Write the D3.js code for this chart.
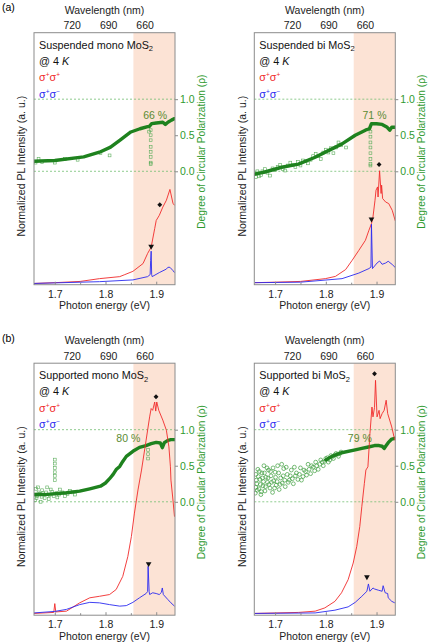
<!DOCTYPE html>
<html>
<head>
<meta charset="utf-8">
<script src="https://cdn.jsdelivr.net/npm/d3@7"></script>
<style>
  body { margin: 0; background: #fff; }
  svg { font-family: "Liberation Sans", Arial, sans-serif; }
</style>
</head>
<body>
<svg id="chart" width="429" height="644"></svg>
<script>
// ---- data: [photon energy (eV), value] ----
// PL intensity is normalized to the panel height (0 = bottom, 1 = top)
let redSusMono = [[1.659,0.005],[1.70,0.008],[1.75,0.013],[1.788,0.024],[1.828,0.032],[1.838,0.04],[1.854,0.053],[1.874,0.084],[1.883,0.124],[1.890,0.149],[1.897,0.223],[1.900,0.255],[1.906,0.275],[1.913,0.308],[1.920,0.335],[1.927,0.378],[1.933,0.323],[1.936,0.315]];
let blueSusMono = [[1.659,0.005],[1.788,0.012],[1.854,0.019],[1.883,0.032],[1.888,0.04],[1.889,0.096],[1.890,0.133],[1.891,0.04],[1.892,0.032],[1.906,0.048],[1.920,0.062],[1.923,0.069],[1.927,0.069],[1.933,0.056],[1.936,0.048]];
let dcpSusMono = [[1.659,0.14],[1.70,0.15],[1.757,0.20],[1.788,0.265],[1.81,0.335],[1.828,0.43],[1.85,0.545],[1.868,0.59],[1.883,0.62],[1.886,0.62],[1.891,0.66],[1.900,0.67],[1.913,0.68],[1.918,0.65],[1.923,0.68],[1.930,0.71],[1.936,0.73]];
let scatSusMono = [[1.889,0.57],[1.889,0.50],[1.889,0.43],[1.889,0.34],[1.889,0.27],[1.889,0.20],[1.889,0.12],[1.889,0.10],[1.886,0.55],[1.662,0.12],[1.668,0.17],[1.675,0.13],[1.70,0.12],[1.72,0.17],[1.745,0.16],[1.79,0.25],[1.808,0.22]];

let redSusBi = [[1.660,0.008],[1.70,0.01],[1.75,0.013],[1.799,0.024],[1.819,0.033],[1.839,0.06],[1.852,0.097],[1.865,0.136],[1.878,0.176],[1.885,0.216],[1.890,0.242],[1.893,0.269],[1.897,0.335],[1.899,0.375],[1.902,0.388],[1.903,0.348],[1.906,0.452],[1.909,0.362],[1.910,0.395],[1.912,0.342],[1.918,0.328],[1.924,0.322],[1.931,0.295],[1.937,0.253]];
let blueSusBi = [[1.660,0.008],[1.75,0.01],[1.832,0.024],[1.865,0.046],[1.885,0.064],[1.889,0.07],[1.890,0.24],[1.892,0.064],[1.901,0.086],[1.906,0.094],[1.911,0.081],[1.918,0.086],[1.923,0.093],[1.931,0.08],[1.937,0.068]];
let dcpSusBi = [[1.660,-0.04],[1.680,-0.01],[1.713,0.056],[1.746,0.10],[1.779,0.195],[1.806,0.29],[1.832,0.38],[1.858,0.50],[1.878,0.57],[1.886,0.59],[1.890,0.66],[1.900,0.66],[1.911,0.65],[1.921,0.61],[1.926,0.57],[1.930,0.61],[1.936,0.61]];
let scatSusBi = [[1.888,0.55],[1.888,0.48],[1.888,0.40],[1.888,0.33],[1.888,0.25],[1.888,0.17],[1.888,0.10],[1.888,0.08],[1.662,-0.08],[1.664,-0.03],[1.665,0.0],[1.668,-0.07],[1.672,-0.05],[1.675,0.0],[1.68,0.03],[1.685,-0.02],[1.69,-0.06],[1.695,0.04],[1.70,0.02],[1.705,0.06],[1.71,0.09],[1.715,0.03],[1.72,0.01],[1.725,0.08],[1.73,0.12],[1.735,0.09],[1.74,0.06],[1.745,0.13],[1.75,0.08],[1.755,0.15],[1.76,0.14],[1.765,0.11],[1.77,0.16],[1.775,0.21],[1.78,0.24],[1.785,0.21],[1.79,0.17],[1.795,0.26],[1.80,0.30],[1.805,0.26],[1.81,0.32],[1.815,0.25],[1.82,0.33],[1.825,0.40],[1.83,0.36],[1.84,0.33]];

let redSupMono = [[1.659,0.007],[1.698,0.011],[1.700,0.046],[1.702,0.013],[1.723,0.016],[1.749,0.049],[1.769,0.069],[1.788,0.075],[1.808,0.082],[1.821,0.102],[1.834,0.154],[1.844,0.233],[1.851,0.312],[1.857,0.405],[1.864,0.497],[1.871,0.576],[1.880,0.694],[1.887,0.787],[1.890,0.82],[1.893,0.813],[1.897,0.846],[1.899,0.81],[1.901,0.846],[1.905,0.813],[1.913,0.774],[1.920,0.734],[1.925,0.668],[1.928,0.589],[1.929,0.536],[1.933,0.457],[1.936,0.391]];
let blueSupMono = [[1.659,0.009],[1.700,0.015],[1.723,0.023],[1.749,0.042],[1.769,0.051],[1.788,0.049],[1.808,0.042],[1.828,0.036],[1.841,0.038],[1.854,0.051],[1.867,0.069],[1.880,0.086],[1.883,0.094],[1.884,0.194],[1.886,0.094],[1.887,0.082],[1.893,0.089],[1.900,0.086],[1.906,0.082],[1.910,0.09],[1.912,0.108],[1.914,0.082],[1.923,0.062],[1.929,0.049],[1.936,0.036]];
let dcpSupMono = [[1.659,0.10],[1.68,0.10],[1.723,0.125],[1.749,0.147],[1.769,0.18],[1.79,0.216],[1.80,0.26],[1.808,0.32],[1.815,0.38],[1.821,0.447],[1.828,0.49],[1.834,0.56],[1.841,0.63],[1.854,0.70],[1.867,0.755],[1.880,0.78],[1.890,0.806],[1.900,0.824],[1.908,0.816],[1.912,0.75],[1.916,0.82],[1.923,0.852],[1.929,0.862],[1.936,0.862]];
let scatSupMono = [[1.700,0.585],[1.700,0.53],[1.700,0.47],[1.700,0.41],[1.700,0.36],[1.700,0.30],[1.884,0.72],[1.884,0.66],[1.884,0.60],[1.661,0.02],[1.662,0.10],[1.663,0.18],[1.664,0.05],[1.665,0.08],[1.667,0.20],[1.668,0.13],[1.670,0.11],[1.672,0.0],[1.674,0.07],[1.675,0.16],[1.677,0.12],[1.68,0.05],[1.683,0.13],[1.685,0.20],[1.688,0.04],[1.69,0.09],[1.692,0.17],[1.695,0.14],[1.698,0.08],[1.703,0.12],[1.705,0.06],[1.708,0.10],[1.71,0.17],[1.715,0.13],[1.72,0.08],[1.725,0.11],[1.73,0.15],[1.735,0.13],[1.74,0.10]];

let redSupBi = [[1.660,0.007],[1.746,0.011],[1.779,0.016],[1.798,0.029],[1.818,0.055],[1.831,0.089],[1.844,0.141],[1.854,0.207],[1.861,0.273],[1.867,0.352],[1.871,0.431],[1.876,0.523],[1.879,0.576],[1.883,0.589],[1.887,0.721],[1.891,0.826],[1.893,0.787],[1.896,0.824],[1.898,0.932],[1.901,0.787],[1.905,0.813],[1.907,0.78],[1.911,0.8],[1.915,0.813],[1.919,0.853],[1.922,0.8],[1.930,0.747],[1.936,0.694]];
let blueSupBi = [[1.660,0.007],[1.779,0.009],[1.818,0.02],[1.844,0.033],[1.858,0.051],[1.871,0.075],[1.881,0.095],[1.884,0.124],[1.887,0.095],[1.893,0.108],[1.896,0.104],[1.904,0.099],[1.911,0.095],[1.913,0.117],[1.917,0.089],[1.922,0.086],[1.923,0.069],[1.930,0.055],[1.936,0.049]];
let dcpSupBi = [[1.80,0.58],[1.812,0.63],[1.831,0.68],[1.858,0.72],[1.871,0.74],[1.884,0.76],[1.896,0.78],[1.905,0.78],[1.911,0.77],[1.915,0.74],[1.918,0.77],[1.923,0.82],[1.930,0.87],[1.936,0.88]];
let scatSupBi = [[1.661,0.12],[1.662,0.38],[1.662,0.20],[1.663,0.30],[1.664,0.25],[1.665,0.16],[1.666,0.45],[1.667,0.35],[1.668,0.18],[1.669,0.42],[1.670,0.31],[1.671,0.24],[1.672,0.10],[1.673,0.14],[1.674,0.40],[1.675,0.33],[1.676,0.22],[1.677,0.28],[1.678,0.50],[1.679,0.40],[1.680,0.15],[1.681,0.21],[1.682,0.34],[1.684,0.47],[1.685,0.27],[1.686,0.33],[1.687,0.44],[1.688,0.24],[1.690,0.19],[1.691,0.42],[1.692,0.36],[1.693,0.27],[1.695,0.13],[1.696,0.47],[1.697,0.29],[1.699,0.19],[1.700,0.41],[1.701,0.34],[1.702,0.23],[1.704,0.28],[1.705,0.50],[1.707,0.40],[1.708,0.17],[1.710,0.24],[1.711,0.33],[1.713,0.52],[1.714,0.26],[1.716,0.36],[1.717,0.46],[1.719,0.30],[1.720,0.21],[1.722,0.48],[1.724,0.38],[1.726,0.27],[1.728,0.30],[1.730,0.36],[1.732,0.44],[1.734,0.32],[1.736,0.25],[1.738,0.48],[1.740,0.36],[1.742,0.40],[1.745,0.31],[1.748,0.38],[1.750,0.47],[1.752,0.30],[1.755,0.35],[1.757,0.44],[1.760,0.42],[1.762,0.37],[1.765,0.52],[1.767,0.45],[1.770,0.39],[1.772,0.50],[1.775,0.48],[1.778,0.43],[1.780,0.55],[1.782,0.50],[1.785,0.45],[1.788,0.52],[1.790,0.58],[1.793,0.55],[1.795,0.50],[1.798,0.56],[1.800,0.60],[1.803,0.61],[1.805,0.55],[1.808,0.58],[1.810,0.64],[1.812,0.62],[1.815,0.60],[1.818,0.65],[1.820,0.67],[1.823,0.66],[1.825,0.63],[1.828,0.67],[1.830,0.69]];

let energyTicks = [1.7, 1.8, 1.9];
let energyMinor = [1.75, 1.85];
let wavelengthTicks = [720, 690, 660];
let dcpTicks = [0.0, 0.5, 1.0];
let shadeStart = 1.855;

const W = 141, H = 252;
let x = d3.scaleLinear().domain([1.659, 1.937]).range([0, W]);
let wl = d3.scaleLinear().domain([751, 635]).range([0, W]);
let yPL = d3.scaleLinear().domain([0, 1]).range([H, 0]);
let yDCP = d3.scaleLinear().domain([-1.573, 1.922]).range([H, 0]);

let panels = [
  { tag: "(a)", x0: 34, y0: 32.7, name: "Suspended mono MoS", red: redSusMono, blue: blueSusMono, dcp: dcpSusMono, scat: scatSusMono, mark: "square", tri: [1.890, 0.152], dia: [1.907, 0.317], pct: [1.898, 0.777, "66 %"] },
  { tag: null, x0: 254.3, y0: 32.7, name: "Suspended bi MoS", red: redSusBi, blue: blueSusBi, dcp: dcpSusBi, scat: scatSusBi, mark: "square", tri: [1.890, 0.26], dia: [1.905, 0.477], pct: [1.896, 0.777, "71 %"] },
  { tag: "(b)", x0: 34, y0: 363.2, name: "Supported mono MoS", red: redSupMono, blue: blueSupMono, dcp: dcpSupMono, scat: scatSupMono, mark: "square", tri: [1.885, 0.204], dia: [1.8996, 0.867], pct: [1.845, 0.885, "80 %"] },
  { tag: null, x0: 254.3, y0: 363.2, name: "Supported bi MoS", red: redSupBi, blue: blueSupBi, dcp: dcpSupBi, scat: scatSupBi, mark: "circle", tri: [1.881, 0.152], dia: [1.896, 0.958], pct: [1.867, 0.885, "79 %"] }
];

let svg = d3.select("#chart");
let frameColor = "#8c8c8c";
let green = "#1e821e";
let axisGreen = "#2f9a2f";

let linePL = d3.line().x((d) => x(d[0])).y((d) => yPL(d[1]));
let lineDCP = d3.line().x((d) => x(d[0])).y((d) => yDCP(d[1]));

panels.forEach((p, i) => {
  if (p.tag) {
    svg.append("text").attr("x", 2).attr("y", p.y0 - 21.5).attr("font-size", 10.5).text(p.tag);
  }
  let g = svg.append("g").attr("transform", `translate(${p.x0},${p.y0})`);

  svg.append("defs").append("clipPath").attr("id", "clip" + i)
    .append("rect").attr("width", W).attr("height", H);
  let plot = g.append("g").attr("clip-path", `url(#clip${i})`);

  // shaded region
  plot.append("rect")
    .attr("x", x(shadeStart)).attr("y", 0)
    .attr("width", W - x(shadeStart)).attr("height", H)
    .attr("fill", "#fce3d5");

  // dotted reference lines at rho = 0 and 1
  plot.selectAll(".ref").data([0, 1]).join("line")
    .attr("x1", 0).attr("x2", W)
    .attr("y1", (d) => yDCP(d)).attr("y2", (d) => yDCP(d))
    .attr("stroke", "#72bf72").attr("stroke-width", 0.8)
    .attr("stroke-dasharray", "2,2");

  // DCP: scattered points
  if (p.mark == "circle") {
    plot.selectAll(".sc").data(p.scat).join("circle")
      .attr("cx", (d) => x(d[0])).attr("cy", (d) => yDCP(d[1]))
      .attr("r", 1.9).attr("fill", "none")
      .attr("stroke", "#3e9e3e").attr("stroke-width", 0.7);
  } else {
    plot.selectAll(".sc").data(p.scat).join("rect")
      .attr("x", (d) => x(d[0]) - 1.4).attr("y", (d) => yDCP(d[1]) - 1.4)
      .attr("width", 2.8).attr("height", 2.8).attr("fill", "none")
      .attr("stroke", "#5aac5a").attr("stroke-width", 0.6);
  }
  // DCP: dense band
  plot.append("path").datum(p.dcp)
    .attr("d", lineDCP).attr("fill", "none")
    .attr("stroke", green).attr("stroke-width", 3.4)
    .attr("stroke-linejoin", "round").attr("stroke-linecap", "round");

  // PL spectra
  plot.append("path").datum(p.red).attr("d", linePL)
    .attr("fill", "none").attr("stroke", "#f02a2a").attr("stroke-width", 0.9);
  plot.append("path").datum(p.blue).attr("d", linePL)
    .attr("fill", "none").attr("stroke", "#2a2af0").attr("stroke-width", 0.9);

  // peak markers
  g.append("path")
    .attr("d", d3.symbol(d3.symbolTriangle, 14)())
    .attr("transform", `translate(${x(p.tri[0])},${yPL(p.tri[1])}) rotate(180)`)
    .attr("fill", "#111");
  g.append("path")
    .attr("d", d3.symbol(d3.symbolSquare, 12)())
    .attr("transform", `translate(${x(p.dia[0])},${yPL(p.dia[1])}) rotate(45)`)
    .attr("fill", "#111");

  // percentage label
  g.append("text")
    .attr("x", x(p.pct[0])).attr("y", yDCP(p.pct[1]) + 3.8)
    .attr("text-anchor", "middle").attr("font-size", 10.5)
    .attr("fill", "#5b8b33").text(p.pct[2]);

  // frame
  g.append("rect").attr("width", W).attr("height", H)
    .attr("fill", "none").attr("stroke", frameColor).attr("stroke-width", 1);

  // bottom axis (inward ticks)
  g.append("g").attr("transform", `translate(0,${H})`)
    .call(d3.axisBottom(x).tickValues(energyTicks).tickSize(-3).tickPadding(5.6).tickFormat(d3.format(".1f")));
  g.append("g").attr("transform", `translate(0,${H})`)
    .call(d3.axisBottom(x).tickValues(energyMinor).tickSize(-2).tickFormat(""));
  // top wavelength axis
  g.append("g")
    .call(d3.axisTop(wl).tickValues(wavelengthTicks).tickSize(0).tickPadding(3.3));
  // right DCP axis
  let ry = g.append("g").attr("transform", `translate(${W},0)`)
    .call(d3.axisRight(yDCP).tickValues(dcpTicks).tickSize(3).tickPadding(2).tickFormat(d3.format(".1f")));

  g.selectAll(".domain").remove();
  g.selectAll(".tick line").attr("stroke", frameColor);
  g.selectAll(".tick text").attr("font-size", 10.5).attr("font-family", null).attr("fill", "#222");
  ry.selectAll(".tick text").attr("fill", axisGreen);

  // axis titles
  g.append("text").attr("x", W / 2).attr("y", H + 24.5)
    .attr("text-anchor", "middle").attr("font-size", 10.5).attr("fill", "#222")
    .text("Photon energy (eV)");
  g.append("text").attr("x", W / 2).attr("y", -19)
    .attr("text-anchor", "middle").attr("font-size", 10.5).attr("fill", "#222")
    .text("Wavelength (nm)");
  g.append("text")
    .attr("transform", `translate(-12.8,133.5) rotate(-90)`)
    .attr("text-anchor", "middle").attr("dominant-baseline", "central")
    .attr("font-size", 10.5).attr("fill", "#222")
    .text("Normalized PL Intensity (a. u.)");
  g.append("text")
    .attr("transform", `translate(${W + 26.4},119) rotate(-90)`)
    .attr("text-anchor", "middle").attr("dominant-baseline", "central")
    .attr("font-size", 10.2).attr("fill", axisGreen)
    .text("Degree of Circular Polarization (ρ)");

  // in-panel legend text
  let t1 = g.append("text").attr("x", 5).attr("y", 16).attr("font-size", 10.8).attr("fill", "#111");
  t1.append("tspan").text(p.name);
  t1.append("tspan").attr("font-size", 7.5).attr("dy", 2.5).text("2");
  let t2 = g.append("text").attr("x", 5).attr("y", 32).attr("font-size", 10.8).attr("fill", "#111");
  t2.append("tspan").text("@ 4 ");
  t2.append("tspan").attr("font-style", "italic").text("K");

  let sig = (yy, sign, color) => {
    let t = g.append("text").attr("x", 5).attr("y", yy).attr("font-size", 10.8).attr("fill", color);
    t.append("tspan").text("σ");
    t.append("tspan").attr("font-size", 6.5).attr("dy", -4).text("+");
    t.append("tspan").attr("dy", 4).text("σ");
    t.append("tspan").attr("font-size", 6.5).attr("dy", -4).text(sign);
  };
  sig(48.5, "+", "#f02a2a");
  sig(65, "−", "#2a2af0");
});
</script>
</body>
</html>
